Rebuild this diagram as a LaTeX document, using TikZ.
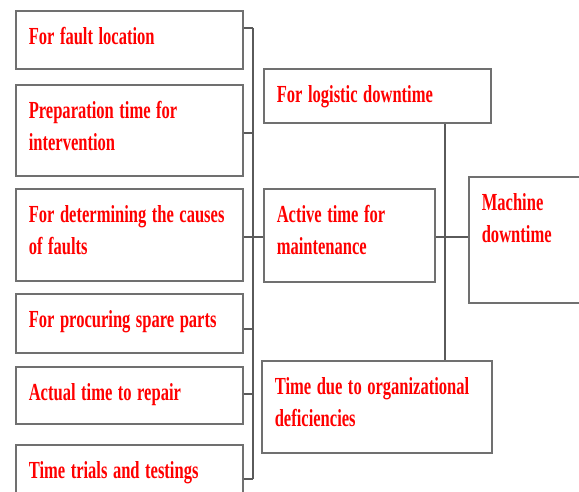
\documentclass[tikz,border=0pt]{standalone}
\usepackage{graphicx}
\usepackage{fontspec}
\setmainfont{Liberation Serif}
\definecolor{boxgray}{RGB}{112,112,112}
\definecolor{linkgray}{RGB}{90,90,90}
\newcommand\sq[1]{\scalebox{0.675}[1]{#1}}

\begin{document}
\begin{tikzpicture}[x=1pt,y=-1pt,
    box/.style={draw=boxgray, line width=1.6pt, fill=white, text=red,
      font=\bfseries\fontsize{24.5}{32}\selectfont, align=left,
      anchor=north west, inner xsep=13pt, inner ysep=0pt,
      text height=34pt, text depth=#1},
    link/.style={draw=linkgray, line width=1.3pt}]
  \useasboundingbox (0,0) rectangle (579,492);
  \clip (0,0) rectangle (579,492);

  % columna izquierda
  \node[box=24pt, text width=201pt] (fault) at (15,10)
    {\sq{For fault location}};
  \node[box=57pt, text width=201pt] (prep) at (15,84)
    {\sq{Preparation time for}\\\sq{intervention}};
  \node[box=58pt, text width=201pt] (causes) at (15,188)
    {\sq{For determining\ the causes}\\\sq{of faults}};
  \node[box=25pt, text width=201pt] (spare) at (15,293)
    {\sq{For procuring\ spare parts}};
  \node[box=23pt, text width=201pt] (repair) at (15,366)
    {\sq{Actual time to repair}};
  \node[box=24pt, text width=201pt] (trials) at (15,444)
    {\sq{Time trials\ and testings}};

  % columna central
  \node[box=20pt, text width=201pt] (logistic) at (263,68)
    {\sq{For logistic\ downtime}};
  \node[box=59pt, text width=145pt] (active) at (263,188)
    {\sq{Active time for}\\\sq{maintenance}};
  \node[box=58pt, text width=204pt] (orgdef) at (261,360)
    {\sq{Time due\ to organizational}\\\sq{deficiencies}};

  % caja derecha
  \node[box=92pt, text width=100pt] (machine) at (468,176)
    {\sq{Machine}\\\sq{downtime}};

  % barra vertical izquierda
  \coordinate (b1) at (253,28);
  \coordinate (b2) at (253,133);
  \coordinate (b3) at (253,237);
  \coordinate (b4) at (253,329);
  \coordinate (b5) at (253,394);
  \coordinate (b6) at (253,479);
  \draw[link] (b1) -- (b6);
  \draw[link] (b1 -| fault.east) -- (b1);
  \draw[link] (b2 -| prep.east) -- (b2);
  \draw[link] (b3 -| causes.east) -- (b3 -| active.west);
  \draw[link] (b4 -| spare.east) -- (b4);
  \draw[link] (b5 -| repair.east) -- (b5);
  \draw[link] (b6 -| trials.east) -- (b6);

  % barra vertical derecha
  \coordinate (t) at (445,237);
  \draw[link] (t |- logistic.south) -- (t |- orgdef.north);
  \draw[link] (t -| active.east) -- (t -| machine.west);
\end{tikzpicture}
\end{document}
